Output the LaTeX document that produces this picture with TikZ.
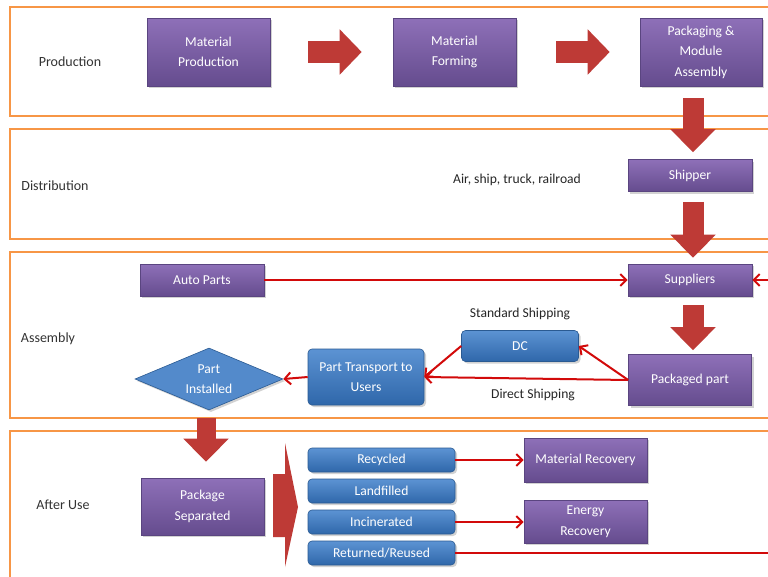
\documentclass[tikz,border=0pt]{standalone}
\usepackage{fontspec}
\setmainfont{Carlito}
\usetikzlibrary{shapes.geometric,arrows.meta,shadows,calc}
\definecolor{frameor}{HTML}{F79646}
\definecolor{purtop}{HTML}{8E70B8}
\definecolor{purbot}{HTML}{654C8E}
\definecolor{purdraw}{HTML}{5A4580}
\definecolor{blutop}{HTML}{5C93D3}
\definecolor{blubot}{HTML}{2F67AA}
\definecolor{bludraw}{HTML}{2A5A92}
\definecolor{fatred}{HTML}{BE3A36}
\definecolor{linered}{HTML}{D20A0A}
\begin{document}
\begin{tikzpicture}[x=1pt,y=-1pt,
  frame/.style={draw=frameor,line width=2.2pt},
  seclabel/.style={font=\fontsize{14}{16}\selectfont,text=black!80,anchor=center},
  note/.style={font=\fontsize{13.6}{16}\selectfont,text=black!85},
  pbox/.style={rectangle,draw=purdraw,line width=0.6pt,top color=purtop,bottom color=purbot,
    text=white,font=\fontsize{13.6}{20.5}\selectfont,align=center,inner sep=1pt,
    drop shadow={opacity=0.35,shadow xshift=2pt,shadow yshift=-2pt}},
  bbox/.style={rectangle,rounded corners=4pt,draw=bludraw,line width=0.6pt,top color=blutop,bottom color=blubot,
    text=white,font=\fontsize{13.6}{20.5}\selectfont,align=center,inner sep=1pt,
    drop shadow={opacity=0.35,shadow xshift=2pt,shadow yshift=-2pt}},
  fatarrow/.style={draw=fatred,line width=22pt,-{Triangle[length=22pt,width=44pt]}},
  fatv/.style={draw=fatred,line width=21pt,-{Triangle[length=23pt,width=44pt]}},
  conn/.style={draw=linered,line width=2pt,-{Straight Barb[length=6pt,width=12pt]}}
]
\useasboundingbox (0,0) rectangle (768,576);
\begin{scope}
\clip (0,0) rectangle (768,576);
\fill[white] (0,0) rectangle (768,576);
% frames
\draw[frame] (10,7) rectangle (800,116);
\draw[frame] (10,129) rectangle (800,239);
\draw[frame] (10,252) rectangle (800,418);
\draw[frame] (10,431) rectangle (800,600);
% section labels
\node[seclabel] (lprod) at (70,62) {Production};
\node[seclabel] (ldist) at (55,186) {Distribution};
\node[seclabel] (lasm) at (48,339) {Assembly};
\node[seclabel] (lafter) at (63,505) {After Use};
% production
\node[pbox,minimum width=123pt,minimum height=68pt] (mp) at (208.5,52) {Material\\Production};
\node[pbox,minimum width=123pt,minimum height=68pt] (mf) at (454.5,52) {Material\\Forming};
\node[pbox,minimum width=122pt,minimum height=68pt] (pma) at (701,52) {Packaging \&\\Module\\Assembly};
\draw[fatarrow] ([xshift=38pt]mp.east) -- ([xshift=-31pt]mf.west);
\draw[fatarrow] ([xshift=40pt]mf.east) -- ([xshift=-30pt]pma.west);
% distribution
\node[pbox,minimum width=124pt,minimum height=32pt] (ship) at (690,175.5) {Shipper};
\node[note] (air) at (517,180) {Air, ship, truck, railroad};
\coordinate (pmab) at (ship.north |- pma.south);
\draw[fatv] ([xshift=3pt,yshift=-12pt]pmab) -- ([xshift=3pt,yshift=7pt]ship.north);
% assembly
\node[pbox,minimum width=124pt,minimum height=32pt] (sup) at (690,280) {Suppliers};
\node[pbox,minimum width=124pt,minimum height=32pt] (auto) at (202,280) {Auto Parts};
\node[pbox,minimum width=123pt,minimum height=51pt] (pkg) at (690,380) {Packaged part};
\node[bbox,minimum width=117pt,minimum height=31pt] (dc) at (520,346) {DC};
\node[bbox,minimum width=116pt,minimum height=56pt] (ptu) at (366,377) {Part Transport to\\Users};
\node[diamond,draw=bludraw,line width=0.6pt,fill=blutop!80!blubot,text=white,
  font=\fontsize{13.6}{20.5}\selectfont,align=center,minimum width=148pt,minimum height=62pt,
  inner sep=0pt,aspect=2.4,drop shadow={opacity=0.35,shadow xshift=2pt,shadow yshift=-2pt}] (pi) at (209,379) {Part\\Installed};
\node[note] (lstd) at (520,314) {Standard Shipping};
\node[note] (ldir) at (533,395) {Direct Shipping};
\draw[fatv] ([xshift=3pt,yshift=-10pt]ship.south) -- ([xshift=3pt,yshift=6pt]sup.north);
\draw[fatv] ([xshift=3pt,yshift=-9pt]sup.south) -- ([xshift=3pt,yshift=4pt]pkg.north);
\coordinate (offr1) at (775,280);
\draw[conn] (auto.east) -- (sup.west);
\draw[conn] (offr1) -- (sup.east);
\draw[conn] (pkg.west) -- (ptu.east);
\draw[conn] (pkg.west) -- (dc.east);
\draw[conn] (dc.west) -- (ptu.east);
\draw[conn] (ptu.west) -- (pi.east);
% after use
\node[pbox,minimum width=123pt,minimum height=57pt] (ps) at (202.5,506.5) {Package\\Separated};
\coordinate (psn) at (pi.south |- ps.north);
\draw[fatv,line width=19pt] ([xshift=-3pt,yshift=-8pt]pi.south) -- ([xshift=-3pt,yshift=16pt]psn);
\fill[fatred] (273,474) -- (285,474) -- (285,443) -- (298,507) -- (285,567) -- (285,537) -- (273,537) -- cycle;
\node[bbox,minimum width=147pt,minimum height=24pt] (rec) at (381.5,460) {Recycled};
\node[bbox,minimum width=147pt,minimum height=24pt] (land) at (381.5,491) {Landfilled};
\node[bbox,minimum width=147pt,minimum height=24pt] (inc) at (381.5,522) {Incinerated};
\node[bbox,minimum width=147pt,minimum height=24pt] (ret) at (381.5,553) {Returned/Reused};
\node[pbox,minimum width=123pt,minimum height=44pt] (mrec) at (585.5,460) {Material Recovery};
\node[pbox,minimum width=123pt,minimum height=43pt] (erec) at (585.5,521.5) {Energy\\Recovery};
\coordinate (offr2) at (775,553);
\draw[conn] (rec.east) -- (mrec.west);
\draw[conn] (inc.east) -- (inc.east -| erec.west);
\draw[draw=linered,line width=2pt] (ret.east) -- (offr2);
\end{scope}
\end{tikzpicture}
\end{document}
